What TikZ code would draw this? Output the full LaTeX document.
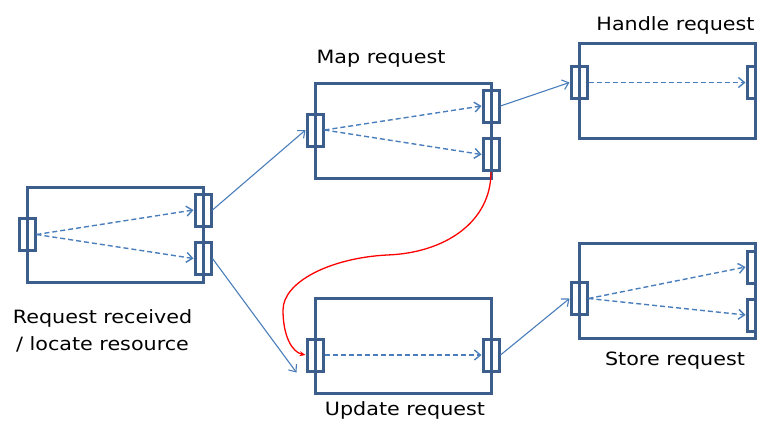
\documentclass[tikz,border=0pt]{standalone}
\usepackage{fontspec}
\setmainfont{DejaVu Sans}[FakeStretch=1.13]
\usepackage{xcolor}
\usepackage{tikz}
\usetikzlibrary{calc,arrows.meta,positioning}
\definecolor{frame}{RGB}{60,94,140}
\definecolor{flow}{RGB}{74,126,187}

\begin{document}
\begin{tikzpicture}[x=1pt,y=-1pt,
    comp/.style={draw=frame,line width=3pt,minimum width=176pt,minimum height=95pt,inner sep=0pt},
    port/.style={draw=frame,line width=3pt,minimum width=16pt,minimum height=32pt,inner sep=0pt},
    lbl/.style={font=\fontsize{18.3}{27}\selectfont,anchor=base,align=center,inner sep=0pt},
    inner/.style={draw=flow,line width=1.4pt,dash pattern=on 5pt off 3pt,-{Straight Barb[length=6pt,width=10pt]}},
    ed/.style={draw=flow,line width=1.1pt,-{Straight Barb[length=6pt,width=10pt]}},
    back/.style={draw=red,line width=1.3pt,-{Stealth[length=6pt,width=5pt]}}]
   \useasboundingbox (0,0) rectangle (757,429);
   % components
   \node[comp] (recv) at (115,234.5) {};
   \node[comp] (map)  at (403,130.5) {};
   \node[comp] (hdl)  at (667,90.5)  {};
   \node[comp] (upd)  at (403,345.5) {};
   \node[comp] (sto)  at (667,290.5) {};
   % ports
   \node[port] (p1a) at (27,234.5)  {};
   \node[port] (p1b) at (203,210)   {};
   \node[port] (p1c) at (203,258.5) {};
   \node[port] (p2a) at (315,130)   {};
   \node[port] (p2b) at (491,106)   {};
   \node[port] (p2c) at (491,154.5) {};
   \node[port] (p3a) at (579,82.5)  {};
   \node[port] (p3b) at (755,82.5)  {};
   \node[port] (p4a) at (315,355)   {};
   \node[port] (p4b) at (491,355)   {};
   \node[port] (p5a) at (579,298.5) {};
   \node[port] (p5b) at (755,267)   {};
   \node[port] (p5c) at (755,315)   {};
   % labels
   \node[lbl] (lrecv) at (102.5,350) {Request received\\/ locate resource};
   \node[lbl] (lmap)  at (381,63)    {Map request};
   \node[lbl] (lhdl)  at (675.5,30)  {Handle request};
   \node[lbl] (lupd)  at (405,415)   {Update request};
   \node[lbl] (lsto)  at (675,365)   {Store request};
   % flows inside
   \draw[inner] (p1a.east) -- (p1b.west); \draw[inner] (p1a.east) -- (p1c.west);
   \draw[inner] (p2a.east) -- (p2b.west); \draw[inner] (p2a.east) -- (p2c.west);
   \draw[inner] (p3a.east) -- (p3b.west);
   \draw[inner] (p4a.east) -- (p4b.west);
   \draw[inner] (p5a.east) -- (p5b.west); \draw[inner] (p5a.east) -- (p5c.west);
   % links
   \draw[ed] (p1b.east) -- (p2a.west);
   \draw[ed] (p1c.east) -- ([xshift=-9pt]p4a.south west);
   \draw[ed] (p2b.east) -- (p3a.west);
   \draw[ed] (p4b.east) -- (p5a.west);
   \draw[back] (p2c.south) .. controls (491,222) and (445,253) .. (387,255)
      .. controls (330,258) and (283,282) .. (283,310)
      .. controls (283,336) and (292,352) .. (p4a.west);
\end{tikzpicture}
\end{document}
